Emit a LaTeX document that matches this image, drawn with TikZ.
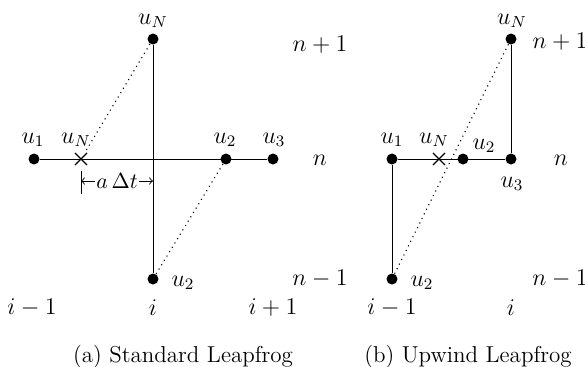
\documentclass[tikz,border=0pt]{standalone}
\usetikzlibrary{shapes.misc}
\begin{document}
\begin{tikzpicture}[x=0.5pt, y=-0.5pt,
		font=\fontsize{11.5}{14}\selectfont,
		knot/.style={circle, fill=black, inner sep=0pt, minimum size=5.5pt},
		xmark/.style={cross out, draw=black, line width=0.55pt, inner sep=0pt, minimum size=5.5pt},
		mesh/.style={line width=0.5pt},
		trace/.style={dotted, line width=0.55pt},
		dim/.style={<->, line width=0.45pt},
		tag/.style={inner sep=1pt}
	]
		\useasboundingbox (0,0) rectangle (585,366);
		% (a) standard leapfrog: points
		\node[knot] (aN) at (153,39) {};
		\node[knot] (a1) at (34,159) {};
		\node[xmark] (aX) at (81,159) {};
		\node[knot] (a2) at (226,159) {};
		\node[knot] (a3) at (273,159) {};
		\node[knot] (aS) at (153,279) {};
		% (a) labels
		\node[tag] (laN) at (153,21) {$u_N$};
		\node[tag] (la1) at (33,140) {$u_1$};
		\node[tag] (laX) at (76,140) {$u_N$};
		\node[tag] (la2) at (225,140) {$u_2$};
		\node[tag] (la3) at (274,140) {$u_3$};
		\node[tag] (laS) at (183,283) {$u_2$};
		\node[tag] (an1) at (320,45) {$n+1$};
		\node[tag] (an0) at (320,160) {$n$};
		\node[tag] (anm) at (320,279) {$n-1$};
		\node[tag] (aim) at (32,308) {$i-1$};
		\node[tag] (ai0) at (153,308) {$i$};
		\node[tag] (aip) at (273,308) {$i+1$};
		\node[tag] (capA) at (183,357) {(a) Standard Leapfrog};
		% (a) lines
		\draw[mesh] (a1) -- (a3);
		\draw[mesh] (aN) -- (aS);
		\draw[trace] (aN) -- (aX);
		\draw[trace] (a2) -- (aS);
		% (a) distance a dt
		\coordinate (tkT) at (81,171);
		\coordinate (tkB) at (81,194);
		\coordinate (dL) at (81,181);
		\coordinate (dR) at (153,181);
		\draw[mesh] (tkT) -- (tkB);
		\draw[dim] (dL) -- node[fill=white, inner sep=0.5pt, font=\fontsize{10.5}{12}\selectfont]{$a\,\Delta t$} (dR);
		% (b) upwind leapfrog: points
		\node[knot] (bN) at (511,39) {};
		\node[knot] (b1) at (392,159) {};
		\node[xmark] (bX) at (439,159) {};
		\node[knot] (b2) at (463,159) {};
		\node[knot] (b3) at (511,159) {};
		\node[knot] (bS) at (392,279) {};
		% (b) labels
		\node[tag] (lbN) at (512,21) {$u_N$};
		\node[tag] (lb1) at (392,140) {$u_1$};
		\node[tag] (lbX) at (434,140) {$u_N$};
		\node[tag] (lb2) at (484,146) {$u_2$};
		\node[tag] (lb3) at (512,184) {$u_3$};
		\node[tag] (lbS) at (422,283) {$u_2$};
		\node[tag] (bn1) at (560,42) {$n+1$};
		\node[tag] (bn0) at (561,160) {$n$};
		\node[tag] (bnm) at (560,279) {$n-1$};
		\node[tag] (bim) at (392,308) {$i-1$};
		\node[tag] (bi0) at (511,308) {$i$};
		\node[tag] (capB) at (468,357) {(b) Upwind Leapfrog};
		% (b) lines
		\draw[mesh] (b1) -- (b3);
		\draw[mesh] (bN) -- (b3);
		\draw[mesh] (b1) -- (bS);
		\draw[trace] (bN) -- (bS);
	\end{tikzpicture}
\end{document}
